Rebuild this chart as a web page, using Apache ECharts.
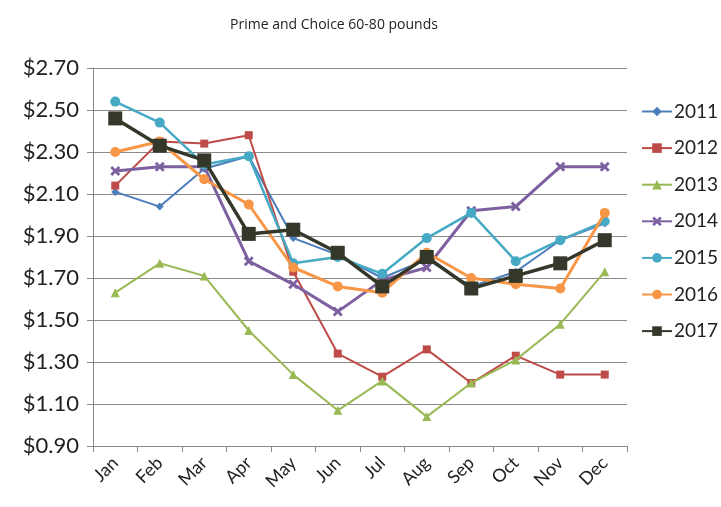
<!DOCTYPE html>
<html>
<head>
<meta charset="utf-8">
<script src="https://cdn.jsdelivr.net/npm/echarts@6/dist/echarts.min.js"></script>
<style>
  html, body { margin: 0; padding: 0; background: #ffffff; }
  #chart { width: 721px; height: 507px; }
</style>
</head>
<body>
<div id="chart"></div>
<script>
// Monthly prices, Prime and Choice 60-80 lb
const months = ['Jan', 'Feb', 'Mar', 'Apr', 'May', 'Jun', 'Jul', 'Aug', 'Sep', 'Oct', 'Nov', 'Dec'];
const years = ['2011', '2012', '2013', '2014', '2015', '2016', '2017'];

const y2011 = [2.11, 2.04, 2.22, 2.28, 1.89, 1.81, 1.70, 1.79, 1.66, 1.73, 1.88, 1.96];
const y2012 = [2.14, 2.35, 2.34, 2.38, 1.73, 1.34, 1.23, 1.36, 1.20, 1.33, 1.24, 1.24];
const y2013 = [1.63, 1.77, 1.71, 1.45, 1.24, 1.07, 1.21, 1.04, 1.20, 1.31, 1.48, 1.73];
const y2014 = [2.21, 2.23, 2.23, 1.78, 1.67, 1.54, 1.69, 1.75, 2.02, 2.04, 2.23, 2.23];
const y2015 = [2.54, 2.44, 2.24, 2.28, 1.77, 1.80, 1.72, 1.89, 2.01, 1.78, 1.88, 1.97];
const y2016 = [2.30, 2.35, 2.17, 2.05, 1.75, 1.66, 1.63, 1.82, 1.70, 1.67, 1.65, 2.01];
const y2017 = [2.46, 2.33, 2.26, 1.91, 1.93, 1.82, 1.66, 1.80, 1.65, 1.71, 1.77, 1.88];

const yearData = [y2011, y2012, y2013, y2014, y2015, y2016, y2017];
const colors = ['#4A7EBB', '#BE4B48', '#98B954', '#7D60A0', '#46AAC5', '#F79646', '#34382A'];
const xMark = 'path://M2,0 L5,3 L8,0 L10,2 L7,5 L10,8 L8,10 L5,7 L2,10 L0,8 L3,5 L0,2 Z';
const symbols = ['diamond', 'rect', 'triangle', xMark, 'circle', 'circle', 'rect'];
const symbolSizes = [8, 8, 9, 10, 10, 10, 14];
const lineWidths = [2, 2, 2, 3, 2.5, 3, 3.5];

const chart = echarts.init(document.getElementById('chart'), null, { renderer: 'canvas' });

const series = years.map((name, i) => ({
  name: name,
  type: 'line',
  data: yearData[i],
  symbol: symbols[i],
  symbolSize: symbolSizes[i],
  showAllSymbol: true,
  lineStyle: { color: colors[i], width: lineWidths[i] },
  itemStyle: { color: colors[i], borderColor: colors[i], borderWidth: 0 },
  emphasis: { disabled: true },
  animation: false,
  z: 2 + i
}));

chart.setOption({
  backgroundColor: '#ffffff',
  color: colors,
  animation: false,
  title: {
    text: 'Prime and Choice 60-80 pounds',
    left: 329,
    top: 13,
    textAlign: 'center',
    textStyle: { fontFamily: 'Open Sans', fontSize: 14, fontWeight: 'normal', color: '#222' }
  },
  legend: {
    orient: 'vertical',
    left: 636,
    top: 97,
    itemWidth: 30,
    itemHeight: 12,
    itemGap: 17.6,
    data: years,
    textStyle: { fontFamily: 'Lato', fontSize: 19, color: '#222', padding: [0, 0, 0, -3] }
  },
  grid: { left: 93, right: 94, top: 68, bottom: 61, containLabel: false },
  xAxis: {
    type: 'category',
    data: months,
    boundaryGap: true,
    axisLine: { lineStyle: { color: '#888', width: 1 } },
    axisTick: { show: true, alignWithLabel: false, length: 6, lineStyle: { color: '#888' } },
    axisLabel: {
      rotate: 45,
      margin: 14,
      fontFamily: 'Lato',
      fontSize: 18,
      color: '#222'
    }
  },
  yAxis: {
    type: 'value',
    min: 0.9,
    max: 2.7,
    interval: 0.2,
    axisLine: { show: true, lineStyle: { color: '#888', width: 1 } },
    axisTick: { show: true, length: 6, lineStyle: { color: '#888' } },
    splitLine: { show: true, lineStyle: { color: '#8a8a8a', width: 1 } },
    axisLabel: {
      margin: 14,
      fontFamily: 'Lato',
      fontSize: 22,
      color: '#222',
      formatter: v => '$' + v.toFixed(2)
    }
  },
  series: series
});
</script>
</body>
</html>
